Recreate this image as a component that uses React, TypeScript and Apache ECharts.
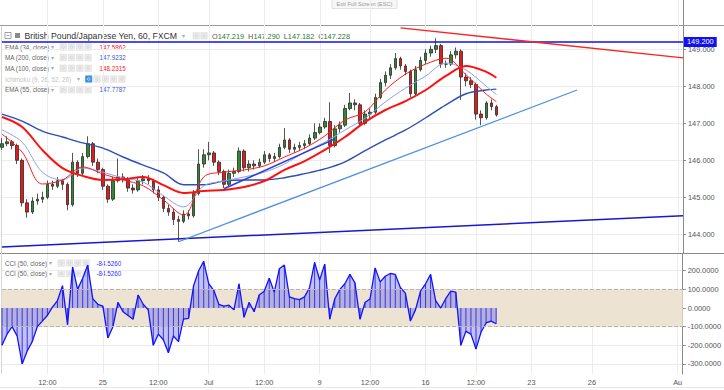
import React, { useEffect, useRef } from "react";
import * as echarts from "echarts";

const FONT = "'Liberation Sans', Arial, sans-serif";

const slotCount = 136;
const tickSlots = [9, 20, 31, 41, 52, 63, 73, 84, 94, 105, 117, 134];
const tickLabels = ["12:00", "25", "12:00", "Jul", "12:00", "9", "12:00", "16", "12:00", "23", "26", "Au"];

// [open, close, low, high]
const candles = [
  [146.35, 146.45, 146.28, 146.6], [146.45, 146.5, 146.38, 146.65], [146.5, 146.4, 146.3, 146.55], [146.4, 146.0, 145.9, 146.45],
  [146.0, 144.85, 144.75, 146.05], [144.85, 144.6, 144.45, 144.95], [144.6, 144.9, 144.55, 145.0], [144.9, 144.95, 144.8, 145.1],
  [144.95, 145.0, 144.85, 145.15], [145.0, 145.35, 144.95, 145.45], [145.35, 145.3, 145.2, 145.45], [145.3, 145.45, 145.25, 145.55],
  [145.45, 145.35, 145.2, 145.5], [145.35, 144.8, 144.65, 145.4], [144.8, 145.95, 144.75, 146.2], [145.95, 145.65, 145.55, 146.0],
  [145.65, 146.1, 145.6, 146.2], [146.1, 146.45, 146.05, 146.65], [146.45, 145.95, 145.85, 146.5], [145.95, 145.75, 145.65, 146.05],
  [145.75, 145.3, 145.2, 145.8], [145.3, 144.95, 144.85, 145.35], [144.95, 145.45, 144.9, 145.55], [145.45, 145.55, 145.4, 146.05],
  [145.55, 145.5, 145.4, 145.65], [145.5, 145.25, 145.15, 145.55], [145.25, 145.2, 145.1, 145.35], [145.2, 145.45, 145.15, 145.55],
  [145.45, 145.5, 145.35, 145.6], [145.5, 145.45, 145.35, 145.6], [145.45, 145.2, 145.1, 145.5], [145.2, 145.0, 144.9, 145.3],
  [145.0, 144.7, 144.6, 145.05], [144.7, 144.6, 144.5, 144.8], [144.6, 144.4, 144.25, 144.7], [144.4, 144.35, 143.8, 144.5],
  [144.35, 144.55, 144.3, 144.65], [144.55, 144.5, 144.4, 144.65], [144.5, 145.1, 144.45, 145.2], [145.1, 145.9, 145.05, 146.3],
  [145.9, 146.15, 145.8, 146.3], [146.15, 146.2, 146.0, 146.5], [146.2, 145.95, 145.85, 146.25], [145.95, 145.7, 145.6, 146.0],
  [145.7, 145.35, 145.25, 145.75], [145.35, 145.65, 145.3, 145.75], [145.65, 145.7, 145.55, 145.8], [145.7, 146.25, 145.65, 146.35],
  [146.25, 145.8, 145.7, 146.3], [145.8, 145.9, 145.7, 146.0], [145.9, 145.85, 145.75, 146.0], [145.85, 145.95, 145.8, 146.05],
  [145.95, 146.15, 145.9, 146.25], [146.15, 146.05, 145.95, 146.2], [146.05, 146.1, 145.95, 146.2], [146.1, 146.35, 146.05, 146.45],
  [146.35, 146.55, 146.3, 146.87], [146.55, 146.3, 146.2, 146.6], [146.3, 146.35, 146.2, 146.45], [146.35, 146.4, 146.25, 146.5],
  [146.4, 146.45, 146.3, 146.55], [146.45, 146.6, 146.4, 146.7], [146.6, 146.75, 146.55, 147.0], [146.75, 146.9, 146.7, 147.0],
  [146.9, 147.05, 146.85, 147.15], [147.05, 146.4, 146.2, 147.57], [146.4, 146.85, 146.35, 146.95], [146.85, 146.95, 146.75, 147.05],
  [146.95, 147.4, 146.9, 147.5], [147.4, 147.55, 147.35, 147.82], [147.55, 147.5, 147.35, 147.65], [147.5, 147.0, 146.9, 147.55],
  [147.0, 147.25, 146.95, 147.35], [147.25, 147.3, 147.15, 147.4], [147.3, 147.7, 147.25, 147.8], [147.7, 148.1, 147.65, 148.2],
  [148.1, 148.3, 148.0, 148.4], [148.3, 148.5, 148.2, 148.6], [148.5, 148.75, 148.45, 148.9], [148.75, 148.55, 148.45, 148.8],
  [148.55, 148.4, 148.3, 148.6], [148.4, 147.8, 147.7, 148.45], [147.8, 148.45, 147.75, 148.55], [148.45, 148.7, 148.4, 148.8],
  [148.7, 148.9, 148.6, 149.0], [148.9, 149.0, 148.8, 149.1], [149.0, 149.1, 148.9, 149.3], [149.1, 148.6, 148.5, 149.15],
  [148.6, 148.6, 148.5, 148.7], [148.6, 148.85, 148.55, 148.95], [148.85, 148.95, 148.75, 149.05], [148.95, 148.25, 147.63, 149.0],
  [148.25, 148.15, 148.0, 148.35], [148.15, 148.05, 147.95, 148.25], [148.05, 147.25, 147.1, 148.1], [147.25, 147.15, 146.95, 147.35],
  [147.15, 147.55, 147.1, 147.6], [147.55, 147.45, 147.35, 147.65], [147.45, 147.228, 147.182, 147.5],
];

const cci = [
  -200, -140, -100, -150, -300, -230, -180, -100, -70, -40,
  5, 40, 120, -90, 220, 100, 160, 230, 50, 20,
  10, -160, -100, 30, -20, -40, -60, 70, 20, -10,
  -200, -140, -170, -240, -150, -180, -60, -55, 120, 200,
  250, 130, 95, 20, 10, 15, -10, 130, -50, 30,
  -20, 70, 90, 160, 85, 210, 230, 60, 50, 45,
  60, 110, 245, 150, 235, -60, 50, 100, 130, 180,
  135, -60, 30, 50, 215, 140, 170, 185, 180, 110,
  80, -70, -10, 90, 130, 180, 40, 0, 50, 90,
  85, -200, -125, -140, -220, -130, -80, -70, -84.526,
];

const maIdx = [0, 4, 8, 12, 16, 20, 24, 28, 32, 36, 40, 44, 48, 52, 56, 60, 64, 68, 72, 76, 80, 84, 88, 92, 96, 98];
const ema34 = [146.71, 146.22, 145.36, 145.47, 145.82, 145.63, 145.47, 145.31, 144.93, 144.52, 145.55, 145.68, 145.74, 145.85, 146.09, 146.33, 146.66, 147.09, 147.31, 147.9, 148.33, 148.6, 148.76, 148.31, 147.79, 147.586];
const ma200 = [147.25, 147.06, 146.79, 146.63, 146.47, 146.33, 146.09, 145.87, 145.66, 145.34, 145.34, 145.44, 145.47, 145.47, 145.53, 145.64, 145.77, 145.96, 146.26, 146.55, 146.82, 147.15, 147.5, 147.8, 147.9, 147.923];
const ma100 = [147.17, 146.9, 146.28, 145.79, 145.58, 145.47, 145.49, 145.55, 145.33, 145.12, 145.17, 145.2, 145.28, 145.44, 145.74, 145.98, 146.28, 146.63, 147.04, 147.36, 147.6, 147.9, 148.28, 148.55, 148.39, 148.232];
const ema55 = [146.82, 146.49, 145.68, 145.47, 145.79, 145.68, 145.52, 145.41, 145.04, 144.74, 145.31, 145.44, 145.55, 145.68, 145.9, 146.22, 146.49, 146.82, 147.14, 147.58, 147.95, 148.28, 148.63, 148.44, 148.0, 147.779];

const resistanceLine = [[79, 149.58], [135, 148.77]];
const baseLine = [[0, 143.66], [135, 144.5]];
const risingLine = [[35, 143.8], [114, 147.9]];
const shortLine = [[44, 145.23], [66, 146.58]];
const hLevel = 149.2;
const lastClose = 147.228;

const priceTicks = [144, 145, 146, 147, 148, 149];
const cciTicks = [200, 100, 0, -100, -200, -300];
const cciBand = [100, -100];

const categories = Array.from({ length: slotCount }, (_, i) => {
  const k = tickSlots.indexOf(i);
  return k >= 0 ? tickLabels[k] : "";
});

const zip = (idx: number[], vals: number[]) => idx.map((i, k) => [i, vals[k]]);

function iconBoxes(x0: number, y: number, n: number, step: number, firstBlue = false) {
  const out: any[] = [];
  for (let k = 0; k < n; k++) {
    const blue = k === 0 && firstBlue;
    out.push({
      type: "rect",
      shape: { x: x0 + k * step, y: y - 3.2, width: 6.4, height: 6.4 },
      style: { fill: blue ? "#3d8fe0" : "#ececec", stroke: blue ? "#3d8fe0" : "#dadada", lineWidth: 0.6 },
      silent: true,
    });
    out.push({
      type: "circle",
      shape: { cx: x0 + k * step + 3.2, cy: y, r: 1.3 },
      style: { fill: "none", stroke: blue ? "#ffffff" : "#c8c8c8", lineWidth: 0.6 },
      silent: true,
    });
  }
  return out;
}

function legendRow(y: number, label: string, labelColor: string, arrowX: number, boxX: number, nBoxes: number, value: string, valueX: number, valueColor: string, firstBlue = false) {
  const els: any[] = [
    { type: "text", x: 5, y, style: { text: label, fill: labelColor, fontSize: 6.3, fontFamily: FONT, verticalAlign: "middle" }, silent: true },
    { type: "text", x: arrowX, y, style: { text: "▾", fill: "#aaa", fontSize: 6, fontFamily: FONT, verticalAlign: "middle" }, silent: true },
    ...iconBoxes(boxX, y, nBoxes, 8.3, firstBlue),
  ];
  if (value) {
    els.push({ type: "text", x: valueX, y, style: { text: value, fill: valueColor, fontSize: 6.3, fontFamily: FONT, verticalAlign: "middle" }, silent: true });
  }
  return els;
}

export default function App() {
  const ref = useRef<HTMLDivElement>(null);
  useEffect(() => {
    if (!ref.current) return;
    const chart = echarts.init(ref.current, null, { renderer: "svg" });
    const labelInterval = (_i: number, v: string) => v !== "";
    const axisLabelFont = { fontSize: 7.4, color: "#555", fontFamily: FONT };

    const trend = (data: number[][], color: string, width: number) => ({
      type: "line",
      xAxisIndex: 0,
      yAxisIndex: 0,
      data,
      showSymbol: false,
      silent: true,
      z: 6,
      lineStyle: { color, width },
    });
    const maLine = (vals: number[], color: string, width: number) => ({
      type: "line",
      xAxisIndex: 0,
      yAxisIndex: 0,
      data: zip(maIdx, vals),
      showSymbol: false,
      smooth: 0.35,
      silent: true,
      z: 5,
      lineStyle: { color, width },
    });

    const graphic: any[] = [
      { type: "line", shape: { x1: 0, y1: 25.5, x2: 724, y2: 25.5 }, style: { stroke: "#9a9a9a", lineWidth: 1 }, silent: true },
      { type: "line", shape: { x1: 0, y1: 253.5, x2: 724, y2: 253.5 }, style: { stroke: "#8a8a8a", lineWidth: 1 }, silent: true },
      { type: "line", shape: { x1: 1.5, y1: 26, x2: 1.5, y2: 374 }, style: { stroke: "#d6d6d6", lineWidth: 1 }, silent: true },
      { type: "line", shape: { x1: 0, y1: 387.5, x2: 724, y2: 387.5 }, style: { stroke: "#e6e6e6", lineWidth: 1 }, silent: true },
      { type: "rect", shape: { x: 332, y: -1, width: 65, height: 9.5 }, style: { fill: "#f7f7f7", stroke: "#dcdcdc", lineWidth: 0.8 }, silent: true },
      { type: "text", x: 364.5, y: 4, style: { text: "Exit Full Screen (ESC)", fill: "#999", fontSize: 5.6, fontFamily: FONT, align: "center", verticalAlign: "middle" }, silent: true },
      // title row
      { type: "rect", shape: { x: 5, y: 32.5, width: 6, height: 6 }, style: { fill: "#fff", stroke: "#777", lineWidth: 0.7 }, silent: true },
      { type: "line", shape: { x1: 6.5, y1: 35.5, x2: 9.5, y2: 35.5 }, style: { stroke: "#777", lineWidth: 0.7 }, silent: true },
      { type: "rect", shape: { x: 15, y: 33, width: 5, height: 5 }, style: { fill: "#8a8a8a" }, silent: true },
      { type: "text", x: 24.5, y: 35.8, style: { text: "British Pound/Japanese Yen, 60, FXCM", fill: "#333", fontSize: 8.7, fontFamily: FONT, verticalAlign: "middle" }, silent: true },
      { type: "text", x: 182, y: 36, style: { text: "▾", fill: "#aaa", fontSize: 6, fontFamily: FONT, verticalAlign: "middle" }, silent: true },
      ...iconBoxes(193, 35.8, 2, 7.8),
      {
        type: "text", x: 212, y: 36,
        style: {
          text: "{l|O}{v|147.219}  {l|H}{v|147.290}  {l|L}{v|147.182}  {l|C}{v|147.228}",
          fontSize: 7.3, fontFamily: FONT, verticalAlign: "middle",
          rich: {
            l: { fill: "#555", fontSize: 7.3, fontFamily: FONT },
            v: { fill: "#2b7a2b", fontSize: 7.3, fontFamily: FONT },
          },
        },
        silent: true,
      },
      ...legendRow(47, "EMA (34, close)", "#666", 51, 60, 4, "147.5862", 99.5, "#ff2020"),
      ...legendRow(57.5, "MA (200, close)", "#666", 51, 60, 4, "147.9232", 99.5, "#3a5bc7"),
      ...legendRow(68.2, "MA (100, close)", "#666", 51, 60, 4, "148.2315", 99.5, "#ff2020"),
      ...legendRow(79, "Ichimoku (9, 26, 52, 26)", "#c4c4c4", 77, 85.5, 5, "", 0, "", true),
      ...legendRow(89.7, "EMA (55, close)", "#666", 51, 60, 4, "147.7787", 99.5, "#3a5bc7"),
      ...legendRow(263, "CCI (50, close)", "#666", 49, 58, 4, "-84.5260", 96.5, "#3333ff"),
      ...legendRow(273.5, "CCI (50, close)", "#666", 49, 58, 4, "-84.5260", 96.5, "#3333ff"),
    ];

    chart.setOption({
      animation: false,
      backgroundColor: "#ffffff",
      textStyle: { fontFamily: FONT },
      grid: [
        { left: 2, right: 41, top: 0, height: 253, show: false },
        { left: 2, right: 41, top: 254, height: 120, show: false },
      ],
      xAxis: [
        {
          type: "category", gridIndex: 0, data: categories, boundaryGap: false,
          axisLine: { show: false }, axisTick: { show: false }, axisLabel: { show: false },
          splitLine: { show: true, interval: labelInterval, lineStyle: { color: "#ececec", width: 1 } },
        },
        {
          type: "category", gridIndex: 1, data: categories, boundaryGap: false,
          axisLine: { show: true, lineStyle: { color: "#8a8a8a", width: 1 } },
          axisTick: { show: true, interval: labelInterval, length: 3, lineStyle: { color: "#8a8a8a" } },
          axisLabel: { show: true, interval: labelInterval, margin: 5, ...axisLabelFont },
          splitLine: { show: true, interval: labelInterval, lineStyle: { color: "#ececec", width: 1 } },
        },
      ],
      yAxis: [
        {
          type: "value", gridIndex: 0, position: "right", min: 143.495, max: 150.333, scale: true,
          axisLine: { show: true, lineStyle: { color: "#8a8a8a", width: 1 } },
          axisTick: { show: true, length: 3, customValues: priceTicks, lineStyle: { color: "#8a8a8a" } },
          axisLabel: { show: true, customValues: priceTicks, margin: 5, formatter: (v: number) => v.toFixed(3), ...axisLabelFont },
          splitLine: { show: true, lineStyle: { color: "#ececec", width: 1 } },
        },
        {
          type: "value", gridIndex: 1, position: "right", min: -353.6, max: 289.5,
          axisLine: { show: true, lineStyle: { color: "#8a8a8a", width: 1 } },
          axisTick: { show: true, length: 3, customValues: cciTicks, lineStyle: { color: "#8a8a8a" } },
          axisLabel: { show: true, customValues: cciTicks, margin: 5, formatter: (v: number) => v.toFixed(4), ...axisLabelFont },
          splitLine: { show: true, lineStyle: { color: "#ececec", width: 1 } },
        },
      ],
      graphic,
      series: [
        {
          type: "candlestick",
          xAxisIndex: 0, yAxisIndex: 0,
          data: candles,
          barWidth: 3,
          z: 4,
          silent: true,
          itemStyle: { color: "#2f8a2f", color0: "#e31a1a", borderColor: "#2a2a2a", borderColor0: "#2a2a2a", borderWidth: 0.8 },
          markLine: {
            silent: true,
            symbol: ["none", "none"],
            data: [
              {
                yAxis: hLevel,
                lineStyle: { color: "#1010f0", width: 1.5, type: "solid" },
                label: { show: true, position: "end", distance: 1, formatter: (p: any) => Number(p.value).toFixed(3), backgroundColor: "#1010f0", color: "#fff", fontSize: 7.4, fontFamily: FONT, padding: [2, 3, 1, 3] },
              },
              {
                yAxis: lastClose,
                lineStyle: { opacity: 0, width: 0 },
                label: { show: true, position: "end", distance: 1, formatter: (p: any) => Number(p.value).toFixed(3), backgroundColor: "#2d6b1e", color: "#fff", fontSize: 7.4, fontFamily: FONT, padding: [2, 3, 1, 3] },
              },
            ],
          },
        },
        maLine(ma200, "#2c4eb5", 1.4),
        maLine(ema55, "#8ea0e8", 1),
        maLine(ma100, "#ff0f0f", 2),
        maLine(ema34, "#ff1a1a", 1),
        trend(resistanceLine, "#ff2020", 1.4),
        trend(baseLine, "#1818d0", 1.5),
        trend(risingLine, "#4a8fe0", 1.2),
        trend(shortLine, "#2a3fd8", 1.6),
        {
          type: "line",
          xAxisIndex: 1, yAxisIndex: 1,
          data: [],
          z: 1,
          silent: true,
          markArea: {
            silent: true,
            itemStyle: { color: "#ece3d3" },
            data: [[{ yAxis: cciBand[0] }, { yAxis: cciBand[1] }]],
          },
          markLine: {
            silent: true,
            symbol: ["none", "none"],
            label: { show: false },
            lineStyle: { color: "#bdb5a8", type: "dashed", width: 1 },
            data: cciBand.map((v) => ({ yAxis: v })),
          },
        },
        {
          type: "bar",
          xAxisIndex: 1, yAxisIndex: 1,
          data: cci,
          barWidth: 1,
          z: 3,
          silent: true,
          itemStyle: { color: "#2a2ae0" },
        },
        {
          type: "line",
          xAxisIndex: 1, yAxisIndex: 1,
          data: cci,
          showSymbol: false,
          z: 4,
          silent: true,
          lineStyle: { color: "#1212ff", width: 1.3 },
          areaStyle: { color: "rgba(80,80,235,0.5)", origin: 0 },
        },
      ],
    });
    return () => chart.dispose();
  }, []);
  return <div ref={ref} style={{ position: "fixed", left: 0, top: 0, width: 724, height: 390, background: "#fff" }} />;
}
